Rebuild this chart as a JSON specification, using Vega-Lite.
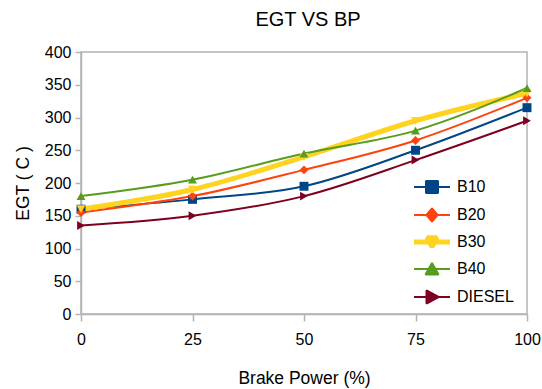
{
  "$schema": "https://vega.github.io/schema/vega-lite/v6.json",
  "width": 446,
  "height": 262,
  "autosize": "none",
  "padding": {"left": 81, "top": 52, "right": 15, "bottom": 75},
  "background": "white",
  "title": {"text": "EGT VS BP", "fontSize": 20, "font": "Liberation Sans", "fontWeight": "normal", "color": "black", "offset": 14, "dx": 4},
  "config": {
    "font": "Liberation Sans",
    "view": {"stroke": "#b3b3b3", "strokeWidth": 1.5},
    "axis": {"grid": false, "domainColor": "#b3b3b3", "domainWidth": 1.5, "tickColor": "#b3b3b3", "tickWidth": 1.5, "labelColor": "black", "titleColor": "black", "labelFont": "Liberation Sans", "titleFont": "Liberation Sans", "labelFontSize": 16, "titleFontSize": 17.5, "titleFontWeight": "normal"}
  },
  "data": {"values": [
    {"BP": 0, "EGT": 160, "Fuel": "B10"},
    {"BP": 25, "EGT": 175, "Fuel": "B10"},
    {"BP": 50, "EGT": 195, "Fuel": "B10"},
    {"BP": 75, "EGT": 250, "Fuel": "B10"},
    {"BP": 100, "EGT": 315, "Fuel": "B10"},
    {"BP": 0, "EGT": 155, "Fuel": "B20"},
    {"BP": 25, "EGT": 180, "Fuel": "B20"},
    {"BP": 50, "EGT": 220, "Fuel": "B20"},
    {"BP": 75, "EGT": 265, "Fuel": "B20"},
    {"BP": 100, "EGT": 330, "Fuel": "B20"},
    {"BP": 0, "EGT": 160, "Fuel": "B30"},
    {"BP": 25, "EGT": 190, "Fuel": "B30"},
    {"BP": 50, "EGT": 240, "Fuel": "B30"},
    {"BP": 75, "EGT": 295, "Fuel": "B30"},
    {"BP": 100, "EGT": 337, "Fuel": "B30"},
    {"BP": 0, "EGT": 180, "Fuel": "B40"},
    {"BP": 25, "EGT": 205, "Fuel": "B40"},
    {"BP": 50, "EGT": 245, "Fuel": "B40"},
    {"BP": 75, "EGT": 280, "Fuel": "B40"},
    {"BP": 100, "EGT": 345, "Fuel": "B40"},
    {"BP": 0, "EGT": 135, "Fuel": "DIESEL"},
    {"BP": 25, "EGT": 150, "Fuel": "DIESEL"},
    {"BP": 50, "EGT": 180, "Fuel": "DIESEL"},
    {"BP": 75, "EGT": 235, "Fuel": "DIESEL"},
    {"BP": 100, "EGT": 295, "Fuel": "DIESEL"}
  ]},
  "encoding": {
    "x": {"field": "BP", "type": "quantitative", "scale": {"domain": [0, 100], "nice": false}, "axis": {"values": [0, 25, 50, 75, 100], "title": "Brake Power (%)", "tickSize": 7, "labelPadding": 10, "titlePadding": 22, "labelFlush": false}},
    "y": {"field": "EGT", "type": "quantitative", "scale": {"domain": [0, 400], "nice": false}, "axis": {"values": [0, 50, 100, 150, 200, 250, 300, 350, 400], "title": "EGT ( C )", "tickSize": 6, "labelPadding": 4, "titlePadding": 12}},
    "color": {"field": "Fuel", "type": "nominal", "scale": {"domain": ["B10", "B20", "B30", "B40", "DIESEL"], "range": ["#004586", "#ff420e", "#ffd320", "#579d1c", "#7e0021"]},
      "legend": {"title": null, "orient": "none", "legendX": 343, "legendY": 127, "padding": 0, "labelFontSize": 16, "labelColor": "black", "symbolSize": 400, "rowPadding": 6, "labelOffset": 17, "symbolOpacity": 1,
        "encode": {"symbols": {"update": {
          "shape": {"signal": "datum.value === 'B10' ? 'M0,-1M0,1M-1.8,0H1.8M-0.6,-0.6H0.6V0.6H-0.6Z' : datum.value === 'B20' ? 'M0,-1M0,1M-1.8,0H1.8M0,-0.65L0.55,0L0,0.65L-0.55,0Z' : datum.value === 'B30' ? 'M0,-0.7M0,0.7M-1.8,0H1.8M-0.5,-0.42H0.5L0,0.48Z' : datum.value === 'B40' ? 'M0,-1M0,1M-1.8,0H1.8M0,-0.6L0.65,0.55H-0.65Z' : 'M0,-1M0,1M-1.8,0H1.8M-0.55,-0.65L0.65,0L-0.55,0.65Z'"},
          "strokeWidth": {"signal": "datum.value === 'B30' ? 5 : 2"},
          "strokeJoin": {"value": "bevel"},
          "fill": {"scale": "color", "field": "value"},
          "stroke": {"scale": "color", "field": "value"},
          "opacity": {"value": 1}
        }}}}}
  },
  "layer": [
    {"mark": {"type": "line", "interpolate": "monotone"},
     "encoding": {"strokeWidth": {"condition": {"test": "datum.Fuel === 'B30'", "value": 5}, "value": 2}}},
    {"transform": [{"filter": "datum.Fuel === 'B10'"}], "mark": {"type": "point", "filled": true, "opacity": 1, "size": 80, "shape": "square"}},
    {"transform": [{"filter": "datum.Fuel === 'B20'"}], "mark": {"type": "point", "filled": true, "opacity": 1, "size": 80, "shape": "diamond"}},
    {"transform": [{"filter": "datum.Fuel === 'B30'"}], "mark": {"type": "point", "filled": true, "opacity": 1, "size": 80, "shape": "triangle-down"}},
    {"transform": [{"filter": "datum.Fuel === 'B40'"}], "mark": {"type": "point", "filled": true, "opacity": 1, "size": 80, "shape": "triangle-up"}},
    {"transform": [{"filter": "datum.Fuel === 'DIESEL'"}], "mark": {"type": "point", "filled": true, "opacity": 1, "size": 80, "shape": "triangle-right"}}
  ]
}
